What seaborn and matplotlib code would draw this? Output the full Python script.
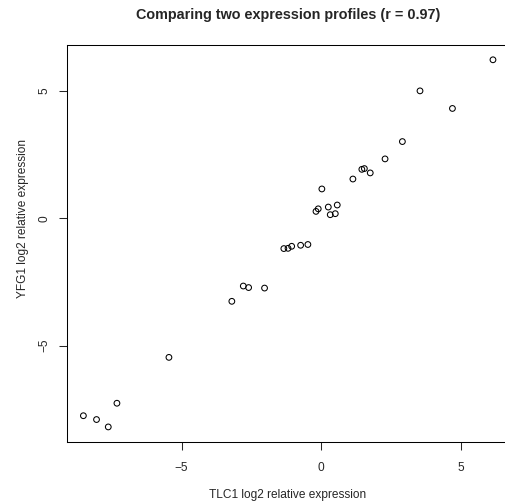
import matplotlib
matplotlib.use("Agg")
import matplotlib.pyplot as plt
import seaborn as sns

# values
tlc1 = [6.14, 3.53, 4.69, 2.90, 2.28, 1.45, 1.54, 1.75, 1.13, 0.02,
        0.25, 0.57, -0.19, -0.11, 0.32, 0.50, -1.34, -1.19, -1.06, -0.74,
        -0.48, -2.79, -2.60, -2.03, -3.20, -5.45, -7.31, -8.51, -8.04, -7.62]
yfg1 = [6.22, 5.00, 4.31, 3.01, 2.33, 1.92, 1.95, 1.78, 1.54, 1.15,
        0.44, 0.52, 0.27, 0.37, 0.14, 0.18, -1.19, -1.18, -1.10, -1.06,
        -1.03, -2.66, -2.72, -2.74, -3.26, -5.46, -7.26, -7.75, -7.90, -8.19]
ticks = [-5, 0, 5]
r_value = 0.97

sns.set_style("ticks")
plt.rcParams["font.family"] = ["Liberation Sans", "DejaVu Sans"]

fig = plt.figure(figsize=(5.06, 5.04), dpi=100)
ax = fig.add_axes([0.1318, 0.1236, 0.8682, 0.7871])

sns.scatterplot(x=tlc1, y=yfg1, ax=ax, marker="o", s=17,
                facecolor="none", edgecolor="black", linewidth=0.75)

ax.set_xlim(-9.107, 6.606)
ax.set_ylim(-8.77, 6.80)
ax.set_xticks(ticks)
ax.set_yticks(ticks)
ax.set_xticklabels([str(t).replace("-", "\u2212") for t in ticks])
ax.set_yticklabels([str(t).replace("-", "\u2212") for t in ticks])
ax.tick_params(axis="x", length=5.5, width=0.75, pad=9, labelsize=8.6)
ax.tick_params(axis="y", length=5.5, width=0.75, pad=6.5, labelsize=8.6,
               labelrotation=90)
for lab in ax.get_yticklabels():
    lab.set_va("center")
for sp in ax.spines.values():
    sp.set_visible(True)
    sp.set_linewidth(0.75)
    sp.set_color("black")

fig.text(0.569, 0.970, f"Comparing two expression profiles (r = {r_value:.2f})",
         ha="center", va="center", fontsize=10.4, fontweight="bold")
fig.text(0.569, 0.018, "TLC1 log2 relative expression",
         ha="center", va="center", fontsize=8.6)
fig.text(0.0445, 0.567, "YFG1 log2 relative expression",
         ha="center", va="center", rotation=90, fontsize=8.6)

fig.savefig("out.png", dpi=100)
